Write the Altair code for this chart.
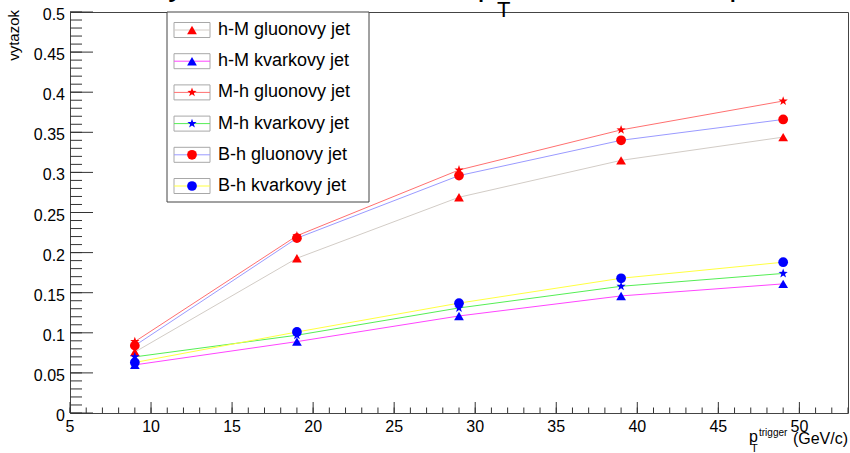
import altair as alt
import pandas as pd

# ---- data -------------------------------------------------------------
pt_trigger = [9, 19, 29, 39, 49]

series = ["h-M gluonovy jet", "h-M kvarkovy jet", "M-h gluonovy jet",
          "M-h kvarkovy jet", "B-h gluonovy jet", "B-h kvarkovy jet"]

hM_gluon = [0.076, 0.193, 0.269, 0.315, 0.344]
hM_kvark = [0.060, 0.089, 0.121, 0.146, 0.161]
Mh_gluon = [0.089, 0.221, 0.303, 0.353, 0.389]
Mh_kvark = [0.070, 0.097, 0.131, 0.158, 0.174]
Bh_gluon = [0.084, 0.218, 0.296, 0.340, 0.366]
Bh_kvark = [0.063, 0.101, 0.137, 0.168, 0.188]

x_tick_labels = [5, 10, 15, 20, 25, 30, 35, 40, 45, 50]
y_tick_labels = [0, 0.05, 0.1, 0.15, 0.2, 0.25, 0.3, 0.35, 0.4, 0.45, 0.5]

title_main = "Vytazok v zavislosti od p"
title_sub = "T"
title_tail = "v intervale p"
y_title = "vytazok"
x_title_p, x_title_sub, x_title_sup, x_title_unit = "p", "T", "trigger", "(GeV/c)"

# ---- styles -----------------------------------------------------------
FONT = "Liberation Sans"
STAR = ("M0,-1L0.235,-0.324L0.951,-0.309L0.38,0.124L0.588,0.809L0,0.4"
        "L-0.588,0.809L-0.38,0.124L-0.951,-0.309L-0.235,-0.324Z")
line_colors = ["#d2ccc6", "#ff44ff", "#ff7070", "#55ee55", "#9a9aff", "#ffff40"]
marker_colors = ["#ff0000", "#0000ff", "#ff0000", "#0000ff", "#ff0000", "#0000ff"]
marker_shapes = ["triangle-up", "triangle-up", STAR, STAR, "circle", "circle"]

W, H = 778, 401

# ---- tables -----------------------------------------------------------
rows = []
for name, vals in zip(series, [hM_gluon, hM_kvark, Mh_gluon, Mh_kvark, Bh_gluon, Bh_kvark]):
    for x, v in zip(pt_trigger, vals):
        rows.append({"series": name, "pt": x, "vytazok": v})
df = pd.DataFrame(rows)

leg = pd.DataFrame({"series": series, "idx": list(range(len(series)))})
one = pd.DataFrame({"k": [0]})

x_major = pd.DataFrame({"v": x_tick_labels})
x_minor = pd.DataFrame({"v": [5 + i for i in range(49)]})
y_major = pd.DataFrame({"v": y_tick_labels})
y_minor = pd.DataFrame({"v": [round(i * 0.01, 2) for i in range(51)]})

xscale = alt.Scale(domain=[5, 53], nice=False, zero=False)
yscale = alt.Scale(domain=[0, 0.5], nice=False, zero=False)
stroke_enc = alt.Stroke("series:N", scale=alt.Scale(domain=series, range=line_colors), legend=None)
fill_enc = alt.Fill("series:N", scale=alt.Scale(domain=series, range=marker_colors), legend=None)
shape_enc = alt.Shape("series:N", scale=alt.Scale(domain=series, range=marker_shapes), legend=None)

# ---- curves -----------------------------------------------------------
lines = alt.Chart(df).mark_line(strokeWidth=1).encode(
    x=alt.X("pt:Q", scale=xscale, axis=None),
    y=alt.Y("vytazok:Q", scale=yscale, axis=None),
    stroke=stroke_enc,
    detail="series:N",
    order="pt:Q",
)

points = alt.Chart(df).mark_point(filled=True, opacity=1, strokeWidth=0, size=95).encode(
    x=alt.X("pt:Q", scale=xscale, axis=None),
    y=alt.Y("vytazok:Q", scale=yscale, axis=None),
    fill=fill_enc,
    shape=shape_enc,
)

# ---- inward ticks on the frame and their labels ----------------------
TICK = "#333"
xt_major = alt.Chart(x_major).mark_rule(color=TICK, strokeWidth=1).encode(
    x=alt.X("v:Q", scale=xscale, axis=None), y=alt.value(H), y2=alt.value(H - 11))
xt_minor = alt.Chart(x_minor).mark_rule(color=TICK, strokeWidth=1).encode(
    x=alt.X("v:Q", scale=xscale, axis=None), y=alt.value(H), y2=alt.value(H - 5.5))
yt_major = alt.Chart(y_major).mark_rule(color=TICK, strokeWidth=1).encode(
    y=alt.Y("v:Q", scale=yscale, axis=None), x=alt.value(0), x2=alt.value(23))
yt_minor = alt.Chart(y_minor).mark_rule(color=TICK, strokeWidth=1).encode(
    y=alt.Y("v:Q", scale=yscale, axis=None), x=alt.value(0), x2=alt.value(12))

x_labels = alt.Chart(x_major).mark_text(align="center", baseline="top", fontSize=16,
                                        font=FONT, color="#000").encode(
    x=alt.X("v:Q", scale=xscale, axis=None), y=alt.value(H + 6), text=alt.Text("v:Q"))
y_labels = alt.Chart(y_major).mark_text(align="right", baseline="middle", fontSize=16,
                                        font=FONT, color="#000", dy=3).encode(
    y=alt.Y("v:Q", scale=yscale, axis=None), x=alt.value(-5),
    text=alt.Text("v:Q", format=".2~f"))

# ---- legend box -------------------------------------------------------
leg_base = alt.Chart(leg).transform_calculate(
    ly="18 + datum.idx * 31.2", ya="datum.ly - 7.5", yb="datum.ly + 7.5")

leg_frame = alt.Chart(one).mark_rect(fill="white", stroke="#444", strokeWidth=1).encode(
    x=alt.value(97), x2=alt.value(299), y=alt.value(0), y2=alt.value(190))
leg_boxes = leg_base.mark_rect(fill="white", stroke="#a8a8a8", strokeWidth=1).encode(
    x=alt.value(104), x2=alt.value(140),
    y=alt.Y("ya:Q", scale=None, axis=None), y2="yb:Q")
leg_lines = leg_base.mark_rule(strokeWidth=1).encode(
    x=alt.value(104), x2=alt.value(140),
    y=alt.Y("ly:Q", scale=None, axis=None), stroke=stroke_enc)
leg_marks = leg_base.mark_point(filled=True, opacity=1, strokeWidth=0, size=95).encode(
    x=alt.value(122), y=alt.Y("ly:Q", scale=None, axis=None), fill=fill_enc, shape=shape_enc)
leg_text = leg_base.mark_text(align="left", baseline="middle", fontSize=18, font=FONT,
                              color="#000").encode(
    x=alt.value(148), y=alt.Y("ly:Q", scale=None, axis=None), text="series:N")

# ---- titles -----------------------------------------------------------
def label(text, x, y, size, align="left", angle=0):
    return alt.Chart(one).mark_text(text=text, align=align, baseline="alphabetic",
                                    fontSize=size, font=FONT, color="#000",
                                    angle=angle).encode(x=alt.value(x), y=alt.value(y))

titles = [
    label(title_main, 78, -17, 32),
    label(title_sub, 427, 5, 22),
    label(title_tail, 677, -17, 32, align="right"),
    label(y_title, -51, -2, 15, align="right", angle=270),
    label(x_title_p, 679, 430, 16),
    label(x_title_sub, 681, 440, 11),
    label(x_title_sup, 689, 424, 10),
    label(x_title_unit, 778, 432, 16, align="right"),
]

chart = alt.layer(
    lines, points, xt_major, xt_minor, yt_major, yt_minor, x_labels, y_labels,
    leg_frame, leg_boxes, leg_lines, leg_marks, leg_text, *titles
).properties(
    width=W, height=H,
    padding={"left": 70, "top": 12, "right": 2, "bottom": 40},
    autosize=alt.AutoSizeParams(type="none"),
    background="white",
).configure_view(stroke="#444", strokeWidth=1)

chart.save("out.html", embed_options={"renderer": "svg", "actions": False})
